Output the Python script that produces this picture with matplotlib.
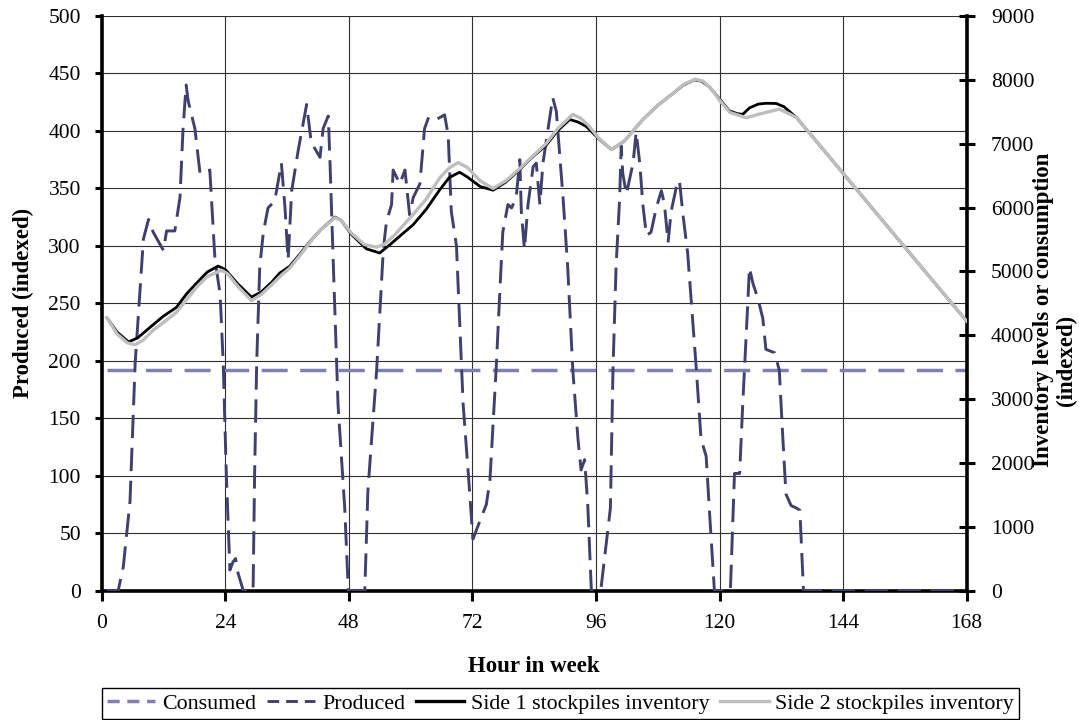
import matplotlib
matplotlib.use('Agg')
import matplotlib.pyplot as plt
from matplotlib.lines import Line2D

plt.rcParams['font.family'] = ['Liberation Serif', 'DejaVu Serif']

# ---------------- data ----------------
consumed_hours = [1, 168]
consumed = [192, 192]

produced_hours = [1.0, 3.2, 4.2, 5.5, 6.5, 8.1, 9.1, 10.0, 12.0, 12.6, 14.2, 15.2, 15.8, 16.4, 16.8,
                  18.1, 19.1, 21.0, 22.0, 23.0, 23.6, 24.2, 24.9, 25.5, 26.0, 26.5, 27.5, 29.4, 29.7,
                  30.1, 30.7, 31.4, 32.3, 33.6, 34.9, 35.6, 36.2, 36.9, 38.2, 39.8, 40.7, 42.4, 43.0,
                  44.0, 44.3, 45.0, 45.9, 47.2, 47.9, 51.1, 51.7, 53.4, 54.7, 55.3, 56.3, 56.6, 57.9,
                  58.9, 59.8, 60.5, 61.8, 62.7, 63.5, 65.0, 66.6, 67.3, 67.9, 68.9, 69.5, 70.2, 71.2,
                  72.1, 74.7, 75.4, 76.6, 77.3, 77.9, 78.9, 79.6, 80.5, 81.2, 81.5, 82.1, 82.8, 83.8,
                  84.4, 85.1, 85.7, 86.7, 87.6, 88.3, 89.6, 90.5, 91.5, 92.5, 93.1, 93.8, 94.4, 95.1,
                  96.6, 97.0, 98.8, 99.3, 99.9, 100.6, 100.9, 101.2, 101.9, 103.2, 103.8, 104.5, 105.1,
                  105.8, 106.7, 107.7, 108.7, 109.3, 110.0, 110.6, 111.6, 112.2, 112.9, 113.8, 114.5,
                  115.5, 116.4, 117.4, 118.0, 119.0, 122.1, 122.9, 123.9, 124.5, 125.5, 125.8, 126.5,
                  127.4, 128.4, 129.0, 130.7, 131.6, 132.3, 132.9, 133.9, 134.9, 135.6, 136.3, 168.0]
produced = [0, 0, 21, 78, 198, 306, 323, 312, 296, 313, 313, 342, 402, 440, 426,
            402, 363, 366, 288, 258, 198, 102, 18, 25, 28, 15, 0, 0, 102,
            198, 282, 312, 333, 339, 372, 333, 288, 348, 384, 423, 390, 377, 402,
            413, 378, 282, 162, 72, 0, 0, 87, 192, 297, 321, 336, 366, 354,
            366, 327, 342, 354, 402, 412, 410, 414, 396, 330, 300, 237, 162, 102,
            45, 75, 96, 192, 258, 312, 336, 333, 342, 375, 330, 297, 336, 369,
            372, 336, 372, 402, 429, 417, 342, 282, 192, 132, 105, 114, 75, 0,
            0, 3, 72, 192, 282, 342, 387, 363, 345, 372, 399, 372, 336,
            309, 312, 333, 348, 336, 303, 330, 351, 357, 327, 294, 252,
            192, 132, 117, 72, 0, 0, 102, 102, 162, 252, 281, 267,
            255, 237, 210, 207, 192, 132, 84, 74, 72, 70, 0, 0]

side1_hours = [1, 3, 5.2, 7, 10, 12, 14.5, 16.5, 18.4, 20.5, 22.6, 24, 26.5, 29.1, 31, 33, 34.6,
               36.5, 38.5, 40.4, 42.5, 45.3, 46.5, 48.5, 51.4, 54.0, 56, 58, 60.5, 63, 65.6, 67.5,
               69.5, 71, 73.5, 76.0, 78.5, 81.2, 83.5, 86.3, 88.5, 90.9, 92.5, 94.1, 96.5, 99.0,
               101.5, 105.1, 108, 110.9, 113, 115.1, 116.5, 118.0, 120, 121.9, 123.5, 124.5, 125.8,
               127.5, 129.0, 131, 132.5, 135.0, 168]
side1 = [4274, 4050, 3896, 3960, 4166, 4300, 4436, 4650, 4814, 4990, 5084, 5030, 4800, 4598, 4680,
         4830, 4976, 5080, 5273, 5462, 5650, 5851, 5800, 5580, 5354, 5289, 5420, 5560, 5732, 5970,
         6272, 6470, 6553, 6480, 6330, 6272, 6400, 6596, 6780, 6974, 7200, 7379, 7340, 7271, 7080,
         6909, 7040, 7379, 7600, 7784, 7920, 8000, 7980, 7892, 7700, 7514, 7470, 7460, 7560, 7620,
         7633, 7630, 7580, 7405, 4220]

side2_hours = [1, 3, 5, 6.5, 8, 10, 12, 14.5, 16.5, 18.5, 20.5, 23.3, 24.5, 26.5, 29.1, 31, 33, 35,
               36.5, 38.5, 40.4, 42.5, 45.3, 46.5, 48.5, 51, 53.4, 55, 57, 60.5, 63, 65.6, 67.5, 69.2,
               71, 73.5, 76.0, 78.5, 81.2, 83.5, 86.3, 88.5, 91.5, 93, 94.5, 96.5, 99.0, 101.5, 105.1,
               108, 110.9, 113, 115.3, 116.8, 118.5, 120, 122, 125.2, 127.5, 129.5, 131.6, 133.5,
               135.0, 168]
side2 = [4274, 4020, 3880, 3853, 3920, 4080, 4200, 4360, 4560, 4760, 4920, 5019, 4960, 4760, 4544,
         4640, 4790, 4950, 5050, 5250, 5450, 5650, 5840, 5800, 5600, 5420, 5381, 5430, 5580, 5894,
         6130, 6461, 6620, 6704, 6630, 6420, 6299, 6420, 6610, 6790, 7000, 7230, 7460, 7400, 7290,
         7090, 6909, 7040, 7379, 7600, 7784, 7930, 8010, 7980, 7850, 7680, 7490, 7406, 7460, 7500,
         7541, 7470, 7405, 4220]

x_ticks = [0, 24, 48, 72, 96, 120, 144, 168]
left_ticks = [0, 50, 100, 150, 200, 250, 300, 350, 400, 450, 500]
right_ticks = [0, 1000, 2000, 3000, 4000, 5000, 6000, 7000, 8000, 9000]

labels = ['Consumed', 'Produced', 'Side 1 stockpiles inventory', 'Side 2 stockpiles inventory']

# ---------------- figure ----------------
W, H = 1079, 720
fig = plt.figure(figsize=(W / 100, H / 100), dpi=100)
L, R, T, B = 101.7, 966.7, 16.0, 590.7
ax = fig.add_axes([L / W, 1 - B / H, (R - L) / W, (B - T) / H])
ax2 = ax.twinx()

FS = 15.5
FT = 16.5
c_cons = '#8080B0'
c_prod = '#40406E'

ax.plot(consumed_hours, consumed, color=c_cons, lw=2.5, dashes=(7.5, 3.6), solid_capstyle='butt',
        dash_capstyle='butt', zorder=3)
ax.plot(produced_hours, produced, color=c_prod, lw=2.1, dashes=(8, 3.3), dash_capstyle='butt',
        zorder=3)
ax2.plot(side1_hours, side1, color='black', lw=2.0, zorder=3)
ax2.plot(side2_hours, side2, color='#BEBEBE', lw=2.4, zorder=4)

ax.set_xlim(0, 168)
ax.set_ylim(0, 500)
ax2.set_ylim(0, 9000)
ax.set_xticks(x_ticks)
ax.set_yticks(left_ticks)
ax2.set_yticks(right_ticks)

ax.grid(True, color='#303030', lw=0.8)
ax.set_axisbelow(True)

for s in ['top', 'right']:
    ax.spines[s].set_visible(False)
for s in ['top', 'left', 'bottom']:
    ax2.spines[s].set_visible(False)
for s in ['left', 'bottom']:
    ax.spines[s].set_linewidth(2.6)
ax2.spines['right'].set_linewidth(2.6)

ax.tick_params(axis='x', direction='out', length=7, width=2.2, pad=10, labelsize=FS)
ax.tick_params(axis='y', direction='out', length=5, width=2.2, pad=10, labelsize=FS)
ax2.tick_params(axis='y', direction='inout', length=11, width=2.2, pad=12, labelsize=FS)

ax.set_xlabel('Hour in week', fontsize=FT, fontweight='bold', labelpad=16)
ax.set_ylabel('Produced (indexed)', fontsize=FT, fontweight='bold', labelpad=10)
fig.text(1043 / W, 1 - 310 / H, 'Inventory levels or consumption', rotation=90,
         ha='center', va='center', fontsize=FT, fontweight='bold')
fig.text(1066 / W, 1 - 360 / H, '(indexed)', rotation=90,
         ha='center', va='center', fontsize=FT, fontweight='bold')

handles = [Line2D([], [], color=c_cons, lw=2.5, dashes=(3.5, 2.2)),
           Line2D([], [], color=c_prod, lw=2.1, dashes=(4, 2.4)),
           Line2D([], [], color='black', lw=2.4),
           Line2D([], [], color='#BEBEBE', lw=2.4)]
leg = fig.legend(handles, labels, ncol=4, loc='upper left',
                 bbox_to_anchor=(L / W, 1 - 688 / H), fontsize=15.8, frameon=True,
                 fancybox=False, framealpha=1, edgecolor='black', borderaxespad=0,
                 handlelength=2.2, handletextpad=0.3, columnspacing=0.5, borderpad=0.25)
leg.get_frame().set_linewidth(1.0)

fig.savefig('out.png', dpi=100)
